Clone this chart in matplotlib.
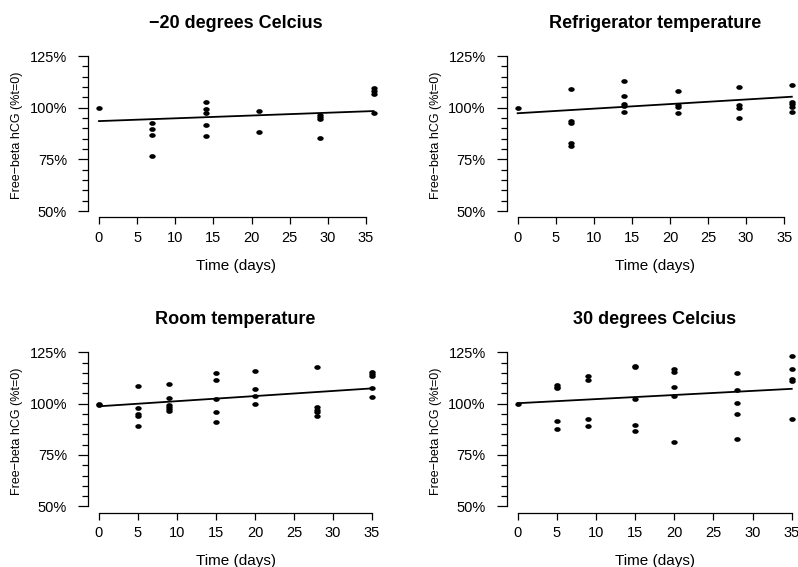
import numpy as np
import matplotlib
matplotlib.use("Agg")
import matplotlib.pyplot as plt
from matplotlib.path import Path
from matplotlib.transforms import Affine2D
from matplotlib.ticker import FixedLocator, MultipleLocator

plt.rcParams['font.family'] = ['Liberation Sans', 'DejaVu Sans']

# ---------------- data (percent of t=0) ----------------
titles = ["\u221220 degrees Celcius", "Refrigerator temperature",
          "Room temperature", "30 degrees Celcius"]

days_freezer = [0, 7, 7, 7, 7, 14, 14, 14, 14, 14, 21, 21, 29, 29, 29, 29, 36, 36, 36, 36]
vals_freezer = [100, 92.7, 89.5, 86.9, 76.6, 102.8, 99.2, 97.3, 91.5, 86.5,
                98.3, 88.1, 96.5, 95.5, 94.5, 85.5, 109.5, 107.9, 106.5, 97.3]
fit_freezer = (93.5, 0.135)   # intercept, slope per day

days_fridge = [0, 7, 7, 7, 7, 7, 14, 14, 14, 14, 14, 21, 21, 21, 21,
               29, 29, 29, 29, 36, 36, 36, 36, 36]
vals_fridge = [100, 109.2, 93.6, 92.8, 83.1, 81.3, 113.1, 105.8, 101.9, 101.0, 97.9,
               108.1, 101.1, 100.2, 97.3, 109.9, 101.5, 100.0, 95.0,
               111.0, 102.9, 101.6, 100.5, 97.8]
fit_fridge = (97.3, 0.222)

days_room = [0, 0, 5, 5, 5, 5, 5, 9, 9, 9, 9, 9, 9, 15, 15, 15, 15, 15,
             20, 20, 20, 20, 28, 28, 28, 28, 28, 35, 35, 35, 35, 35]
vals_room = [100, 99.5, 108.8, 97.7, 94.8, 93.8, 89.3, 109.4, 102.6, 99.3, 98.2, 97.4, 96.4,
             115.1, 111.3, 102.3, 95.8, 91.0, 116.1, 107.0, 103.9, 100.0,
             118.0, 98.4, 97.1, 96.1, 94.2, 115.6, 114.3, 113.6, 107.6, 103.4]
fit_room = (98.7, 0.249)

days_warm = [0, 5, 5, 5, 5, 5, 9, 9, 9, 9, 15, 15, 15, 15, 15,
             20, 20, 20, 20, 20, 28, 28, 28, 28, 28, 35, 35, 35, 35, 35]
vals_warm = [100, 109.1, 108.3, 107.5, 91.7, 87.5, 113.4, 111.5, 92.7, 89.3,
             118.2, 117.9, 102.4, 89.4, 86.7, 116.9, 115.4, 108.3, 103.6, 81.3,
             114.8, 106.8, 100.5, 94.8, 83.0, 123.0, 116.7, 112.2, 111.2, 92.7]
fit_warm = (100.2, 0.20)

panels = [(days_freezer, vals_freezer, fit_freezer),
          (days_fridge, vals_fridge, fit_fridge),
          (days_room, vals_room, fit_room),
          (days_warm, vals_warm, fit_warm)]

y_ticks = [50, 75, 100, 125]
y_ticklabels = ["50%", "75%", "100%", "125%"]
x_ticks = [0, 5, 10, 15, 20, 25, 30, 35]

# ---------------- layout ----------------
W, H = 798, 567
fig = plt.figure(figsize=(W / 100, H / 100), dpi=100)

def px_rect(left, top, right, bottom):
    return [left / W, 1 - bottom / H, (right - left) / W, (bottom - top) / H]

rects = [px_rect(88, 49.8, 384.6, 217.2),
         px_rect(506.7, 49.8, 802.8, 217.2),
         px_rect(88, 346.1, 383.0, 512.5),
         px_rect(506.7, 346.1, 802.7, 512.5)]

# slightly wide elliptical dot, as in the reference
dot = Path.unit_circle().transformed(Affine2D().scale(1.35, 1.0))

for rect, title, (d, v, fit) in zip(rects, titles, panels):
    ax = fig.add_axes(rect)
    d = np.asarray(d, float)
    v = np.asarray(v, float)
    ax.plot(d, v, linestyle='none', marker=dot, markersize=4.6,
            color='black', markeredgewidth=0)
    xs = np.array([d.min(), d.max()])
    ax.plot(xs, fit[0] + fit[1] * xs, color='black', lw=1.3)

    pad = 0.04 * (d.max() - d.min())
    ax.set_xlim(d.min() - pad, d.max() + pad)
    ax.set_ylim(50 - 0.04 * 75, 125 + 0.04 * 75)

    for s in ('top', 'right'):
        ax.spines[s].set_visible(False)
    ax.spines['left'].set_bounds(50, 125)
    ax.spines['bottom'].set_bounds(0, 35)
    for s in ('left', 'bottom'):
        ax.spines[s].set_linewidth(0.9)

    ax.yaxis.set_major_locator(FixedLocator(y_ticks))
    ax.set_yticklabels(y_ticklabels)
    ax.yaxis.set_minor_locator(MultipleLocator(5))
    ax.set_xticks(x_ticks)
    ax.tick_params(axis='y', which='major', length=7, width=0.9, pad=8,
                   labelsize=10.5, colors='black')
    ax.tick_params(axis='y', which='minor', length=4, width=0.9)
    ax.tick_params(axis='x', which='major', length=5, width=0.9, pad=5,
                   labelsize=10.5)

    ax.set_title(title, fontsize=13, fontweight='bold', pad=16)
    ax.text(0.5, -0.29, "Time (days)", transform=ax.transAxes,
            ha='center', va='center', fontsize=11)
    ax.text(-0.24, 0.49, "Free\u2212beta hCG (%t=0)", transform=ax.transAxes,
            ha='center', va='center', rotation=90, fontsize=9)

fig.savefig("out.png", dpi=100)
